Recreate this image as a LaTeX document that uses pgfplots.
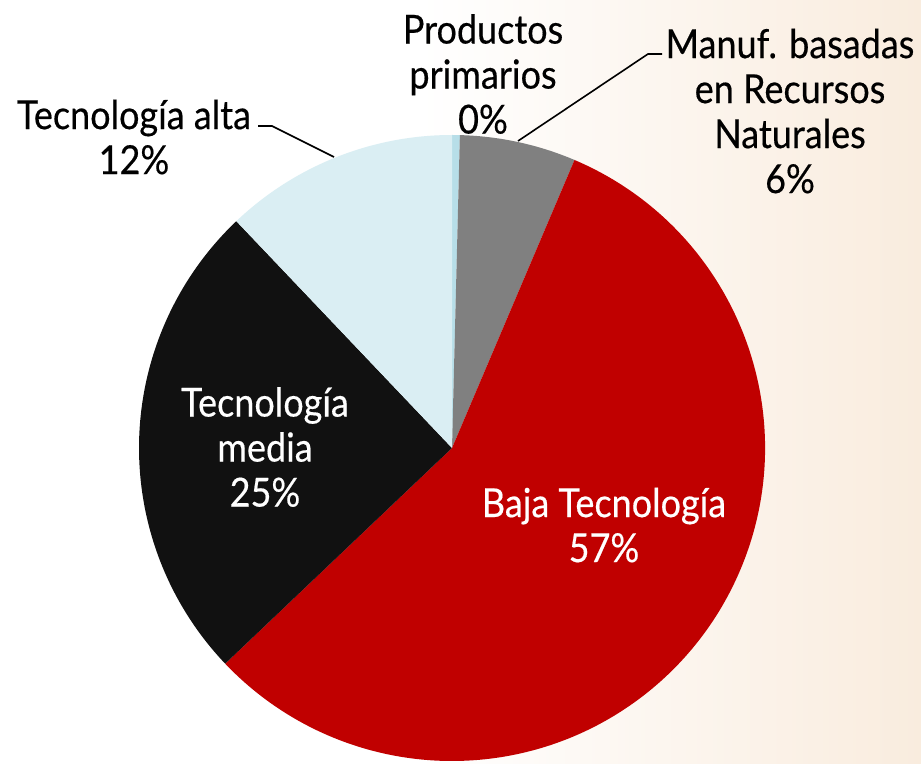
\documentclass[border=0pt]{standalone}
\usepackage{pgfplots}
\pgfplotsset{compat=1.18}
\usepackage{pgfplotstable}
\usepackage{fontspec}
\setmainfont{Lato}[FakeStretch=0.9, FakeBold=0.4]

\definecolor{primc}{RGB}{183,222,232}
\definecolor{manufc}{RGB}{128,128,128}
\definecolor{bajac}{RGB}{192,0,0}
\definecolor{mediac}{RGB}{17,17,17}
\definecolor{altac}{RGB}{218,238,243}
\definecolor{bgpeach}{RGB}{249,236,222}

% share of exports by technology content (%)
\pgfplotstableread{
label value color
prim  0.4  primc
manuf 6.0  manufc
baja  56.5 bajac
media 25.0 mediac
alta  12.1 altac
}\piedata

\begin{document}
\begin{tikzpicture}
\begin{axis}[
    x=1pt, y=1pt,
    xmin=0, xmax=921, ymin=0, ymax=763,
    hide axis,
    clip=false,
]
% background
\fill[white] (axis cs:0,0) rectangle (axis cs:921,763);
\shade[left color=white, right color=bgpeach] (axis cs:420,0) rectangle (axis cs:921,763);

% slices, clockwise from 12 o'clock
\pgfplotsextra{
  \xdef\cum{0}
  \foreach \i in {0,...,4}{
    \pgfplotstablegetelem{\i}{value}\of\piedata
    \let\v\pgfplotsretval
    \pgfplotstablegetelem{\i}{color}\of\piedata
    \let\col\pgfplotsretval
    \pgfmathsetmacro\a{90-3.6*\cum}
    \pgfmathsetmacro\b{90-3.6*(\cum+\v)}
    \fill[\col] (axis cs:452,315) -- ++(\a:313pt) arc[start angle=\a, end angle=\b, radius=313pt] -- cycle;
    \pgfmathsetmacro\c{\cum+\v}
    \xdef\cum{\c}
  }
}

% leader lines
\draw[black, line width=1.6pt] (axis cs:518,622) -- (axis cs:648,709) -- (axis cs:662,709);
\draw[black, line width=1.6pt] (axis cs:258,637) -- (axis cs:272,637) -- (axis cs:334,606);

% labels
\tikzset{lbl/.style={align=center, font=\fontsize{40}{45}\selectfont, inner sep=0pt}}
\node[lbl] at (axis cs:483,689) {Productos\\primarios\\0\%};
\node[lbl] at (axis cs:790,652) {Manuf. basadas\\en Recursos\\Naturales\\6\%};
\node[lbl] at (axis cs:134,626) {Tecnología alta\\12\%};
\node[lbl, white] at (axis cs:265,316) {Tecnología\\media\\25\%};
\node[lbl, white] at (axis cs:604,238) {Baja Tecnología\\57\%};
\end{axis}
\end{tikzpicture}
\end{document}
